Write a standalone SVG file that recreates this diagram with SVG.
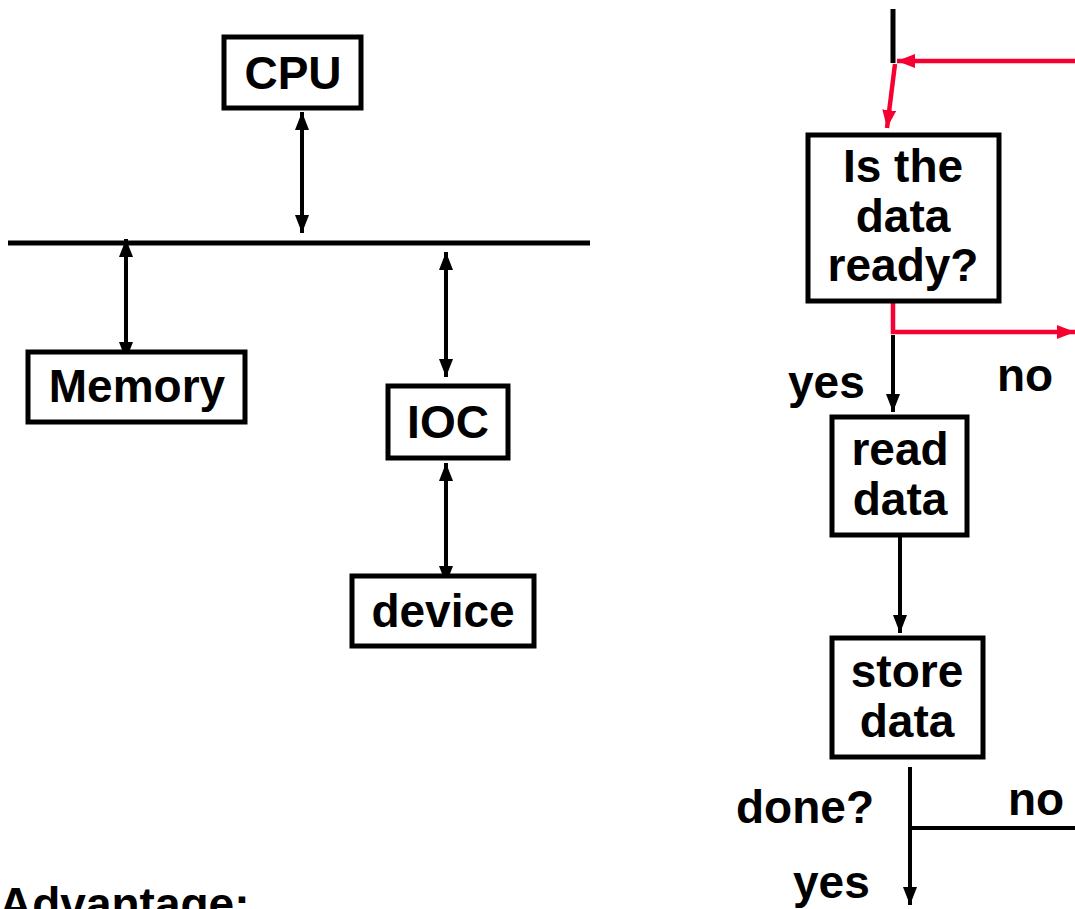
<svg xmlns="http://www.w3.org/2000/svg" width="1075" height="909" viewBox="0 0 1075 909">
<style>
.box{fill:#fff;stroke:#000;stroke-width:5}
.t{font-family:"Liberation Sans",Arial,sans-serif;font-weight:bold;font-size:46px;fill:#000}
.c{text-anchor:middle}
.ln{fill:none;stroke:#000;stroke-width:4}
.rd{fill:none;stroke:#f50030;stroke-width:4.5}
</style>
<defs>
<marker id="ah" markerUnits="userSpaceOnUse" markerWidth="18" markerHeight="14" viewBox="0 0 18 14" refX="18" refY="7" orient="auto-start-reverse"><path d="M0,0 L18,7 L0,14 Z" fill="#000"/></marker>
<marker id="ahr" markerUnits="userSpaceOnUse" markerWidth="18" markerHeight="14" viewBox="0 0 18 14" refX="18" refY="7" orient="auto-start-reverse"><path d="M0,0 L18,7 L0,14 Z" fill="#f50030"/></marker>
</defs>
<rect width="1075" height="909" fill="#fff"/>
<g id="connectors">
<line x1="8" y1="243" x2="590" y2="243" stroke="#000" stroke-width="5"/>
<line class="ln" x1="302" y1="112" x2="302" y2="233" marker-start="url(#ah)" marker-end="url(#ah)"/>
<line class="ln" x1="126" y1="239" x2="126" y2="360" marker-start="url(#ah)" marker-end="url(#ah)"/>
<line class="ln" x1="446" y1="252" x2="446" y2="377" marker-start="url(#ah)" marker-end="url(#ah)"/>
<line class="ln" x1="446" y1="463" x2="446" y2="584" marker-start="url(#ah)" marker-end="url(#ah)"/>
<line x1="893" y1="9" x2="893" y2="63" stroke="#000" stroke-width="5"/>
<line class="rd" x1="1075" y1="61" x2="897" y2="61" marker-end="url(#ahr)"/>
<line class="rd" x1="895" y1="64" x2="887" y2="128" marker-end="url(#ahr)"/>
<polyline class="rd" points="893,302 893,332 1075,332" marker-end="url(#ahr)"/>
<line class="ln" x1="893" y1="335" x2="893" y2="412" marker-end="url(#ah)"/>
<line class="ln" x1="900" y1="537" x2="900" y2="633" marker-end="url(#ah)"/>
<line class="ln" x1="910" y1="767" x2="910" y2="905" marker-end="url(#ah)"/>
<line class="ln" x1="910" y1="828" x2="1075" y2="828"/>
</g>
<g id="cpu"><rect class="box" x="224" y="37" width="137" height="71"/><text class="t c" x="293" y="89">CPU</text></g>
<g id="memory"><rect class="box" x="28" y="352" width="217" height="70"/><text class="t c" x="137" y="402">Memory</text></g>
<g id="ioc"><rect class="box" x="388" y="386" width="120" height="72"/><text class="t c" x="448" y="438">IOC</text></g>
<g id="device"><rect class="box" x="352" y="576" width="182" height="70"/><text class="t c" x="443" y="627">device</text></g>
<g id="ready"><rect class="box" x="808" y="135" width="191" height="166"/><text class="t c" x="903" y="182">Is the</text><text class="t c" x="903" y="232">data</text><text class="t c" x="903" y="281">ready?</text></g>
<g id="read"><rect class="box" x="832" y="417" width="135" height="118"/><text class="t c" x="900" y="465">read</text><text class="t c" x="900" y="515">data</text></g>
<g id="store"><rect class="box" x="832" y="638" width="151" height="119"/><text class="t c" x="907" y="687">store</text><text class="t c" x="907" y="737">data</text></g>
<g id="labels">
<text class="t" x="788" y="398">yes</text>
<text class="t" x="997" y="391">no</text>
<text class="t" x="736" y="823">done?</text>
<text class="t" x="1008" y="815">no</text>
<text class="t" x="793" y="898">yes</text>
<text class="t" x="-1" y="920">Advantage:</text>
</g>
</svg>
